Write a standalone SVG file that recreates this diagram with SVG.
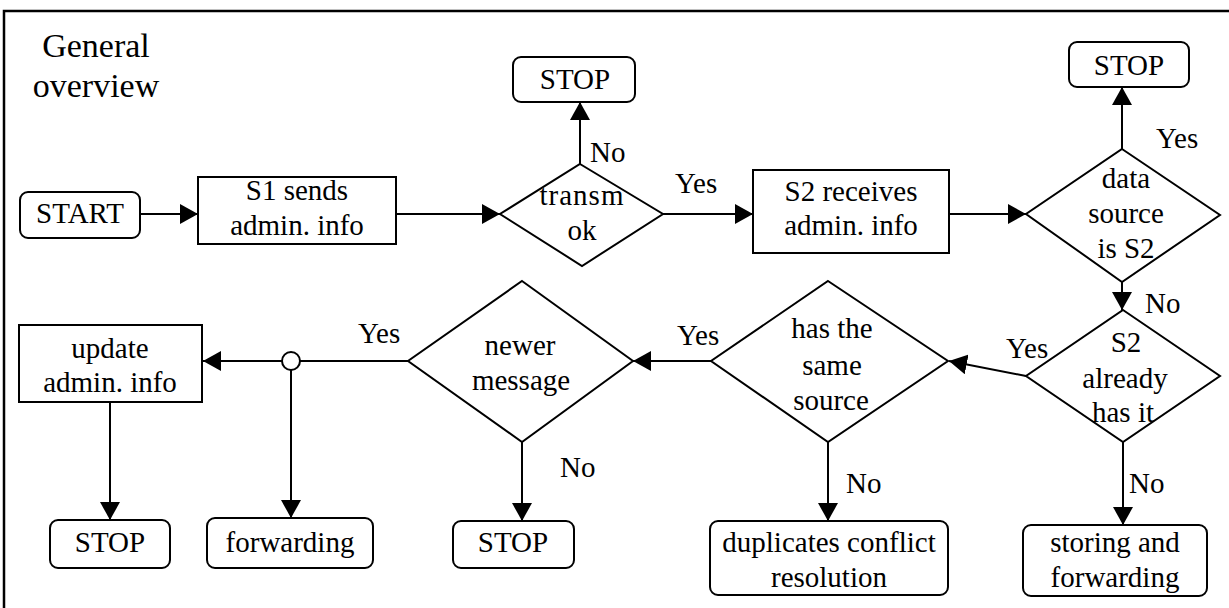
<svg xmlns="http://www.w3.org/2000/svg" width="1229" height="608" viewBox="0 0 1229 608">
  <defs>
    <marker id="arrow" markerUnits="userSpaceOnUse" markerWidth="18" markerHeight="20" refX="18" refY="10" orient="auto">
      <path d="M0,0 L18,10 L0,20 z" fill="#000"/>
    </marker>
    <style>
      text { font-family: "Liberation Serif", "Times New Roman", serif; font-size: 29px; fill: #000; }
      .c { text-anchor: middle; }
      .title { font-size: 34px; }
      .box { fill: #fff; stroke: #000; stroke-width: 2; }
      .term { fill: #fff; stroke: #000; stroke-width: 2; }
      .dec { fill: #fff; stroke: #000; stroke-width: 2; }
      .edge { fill: none; stroke: #000; stroke-width: 2; }
      .arr { marker-end: url(#arrow); }
    </style>
  </defs>

  <rect width="1229" height="608" fill="#fff"/>
  <!-- frame (top and left edges) -->
  <path d="M4,608 V11 H1229" fill="none" stroke="#000" stroke-width="2.5"/>

  <g id="title">
    <text class="c title" x="96" y="57">General</text>
    <text class="c title" x="96" y="97">overview</text>
  </g>

  <!-- connectors -->
  <g id="connectors">
    <line class="edge arr" x1="140" y1="214" x2="198" y2="214"/>
    <line class="edge arr" x1="396" y1="214" x2="500" y2="214"/>
    <line class="edge arr" x1="580" y1="164" x2="580" y2="102"/>
    <line class="edge arr" x1="663" y1="214" x2="753" y2="214"/>
    <line class="edge arr" x1="949" y1="214" x2="1026" y2="214"/>
    <line class="edge arr" x1="1122" y1="149" x2="1122" y2="87"/>
    <line class="edge arr" x1="1122" y1="282" x2="1122" y2="310"/>
    <line class="edge arr" x1="1026" y1="376" x2="949" y2="361"/>
    <line class="edge arr" x1="711" y1="361" x2="633" y2="361"/>
    <line class="edge" x1="408" y1="361" x2="300" y2="361"/>
    <line class="edge arr" x1="282" y1="361" x2="203" y2="361"/>
    <line class="edge arr" x1="291" y1="370" x2="291" y2="518"/>
    <circle cx="291" cy="361" r="9" fill="#fff" stroke="#000" stroke-width="2"/>
    <line class="edge arr" x1="110" y1="402" x2="110" y2="520"/>
    <line class="edge arr" x1="522" y1="442" x2="522" y2="521"/>
    <line class="edge arr" x1="828" y1="442" x2="828" y2="521"/>
    <line class="edge arr" x1="1123" y1="442" x2="1123" y2="525"/>

    <text x="590" y="162">No</text>
    <text x="675" y="193">Yes</text>
    <text x="1156" y="148">Yes</text>
    <text x="1145" y="313">No</text>
    <text x="1006" y="358">Yes</text>
    <text x="677" y="345">Yes</text>
    <text x="358" y="343">Yes</text>
    <text x="560" y="477">No</text>
    <text x="846" y="493">No</text>
    <text x="1129" y="493">No</text>
  </g>

  <g id="start">
    <rect class="term" x="20" y="192" width="120" height="46" rx="8"/>
    <text class="c" x="80" y="223">START</text>
  </g>

  <g id="s1-sends">
    <rect class="box" x="198" y="177" width="198" height="67"/>
    <text class="c" x="297" y="200">S1 sends</text>
    <text class="c" x="297" y="235">admin. info</text>
  </g>

  <g id="transm-ok">
    <polygon class="dec" points="580,164 663,214 582,266 500,214"/>
    <text class="c" x="582" y="205" letter-spacing="1">transm</text>
    <text class="c" x="582" y="240">ok</text>
  </g>

  <g id="stop-transm">
    <rect class="term" x="513" y="57" width="122" height="45" rx="8"/>
    <text class="c" x="575" y="89">STOP</text>
  </g>

  <g id="s2-receives">
    <rect class="box" x="753" y="170" width="196" height="83"/>
    <text class="c" x="851" y="201">S2 receives</text>
    <text class="c" x="851" y="235">admin. info</text>
  </g>

  <g id="data-source">
    <polygon class="dec" points="1122,149 1220,215 1122,282 1026,214"/>
    <text class="c" x="1126" y="188">data</text>
    <text class="c" x="1126" y="223">source</text>
    <text class="c" x="1126" y="258">is S2</text>
  </g>

  <g id="stop-source">
    <rect class="term" x="1069" y="42" width="120" height="45" rx="8"/>
    <text class="c" x="1129" y="75">STOP</text>
  </g>

  <g id="s2-has-it">
    <polygon class="dec" points="1123,310 1220,376 1123,442 1026,376"/>
    <text class="c" x="1126" y="352">S2</text>
    <text class="c" x="1125" y="388">already</text>
    <text class="c" x="1123" y="422">has it</text>
  </g>

  <g id="same-source">
    <polygon class="dec" points="828,281 948,361 828,442 711,361"/>
    <text class="c" x="832" y="338">has the</text>
    <text class="c" x="832" y="375">same</text>
    <text class="c" x="831" y="410">source</text>
  </g>

  <g id="newer-message">
    <polygon class="dec" points="522,281 633,361 522,442 408,361"/>
    <text class="c" x="520" y="355">newer</text>
    <text class="c" x="521" y="390">message</text>
  </g>

  <g id="update-info">
    <rect class="box" x="19" y="325" width="183" height="77"/>
    <text class="c" x="110" y="358">update</text>
    <text class="c" x="110" y="392">admin. info</text>
  </g>

  <g id="stop-update">
    <rect class="term" x="50" y="520" width="120" height="48" rx="8"/>
    <text class="c" x="110" y="552">STOP</text>
  </g>

  <g id="forwarding">
    <rect class="term" x="207" y="518" width="166" height="50" rx="8"/>
    <text class="c" x="290" y="552">forwarding</text>
  </g>

  <g id="stop-newer">
    <rect class="term" x="453" y="521" width="121" height="47" rx="8"/>
    <text class="c" x="513" y="552">STOP</text>
  </g>

  <g id="conflict-resolution">
    <rect class="term" x="710" y="521" width="238" height="74" rx="8"/>
    <text class="c" x="829" y="552">duplicates conflict</text>
    <text class="c" x="829" y="587">resolution</text>
  </g>

  <g id="storing-forwarding">
    <rect class="term" x="1023" y="525" width="184" height="71" rx="8"/>
    <text class="c" x="1115" y="552">storing and</text>
    <text class="c" x="1115" y="587">forwarding</text>
  </g>
</svg>
